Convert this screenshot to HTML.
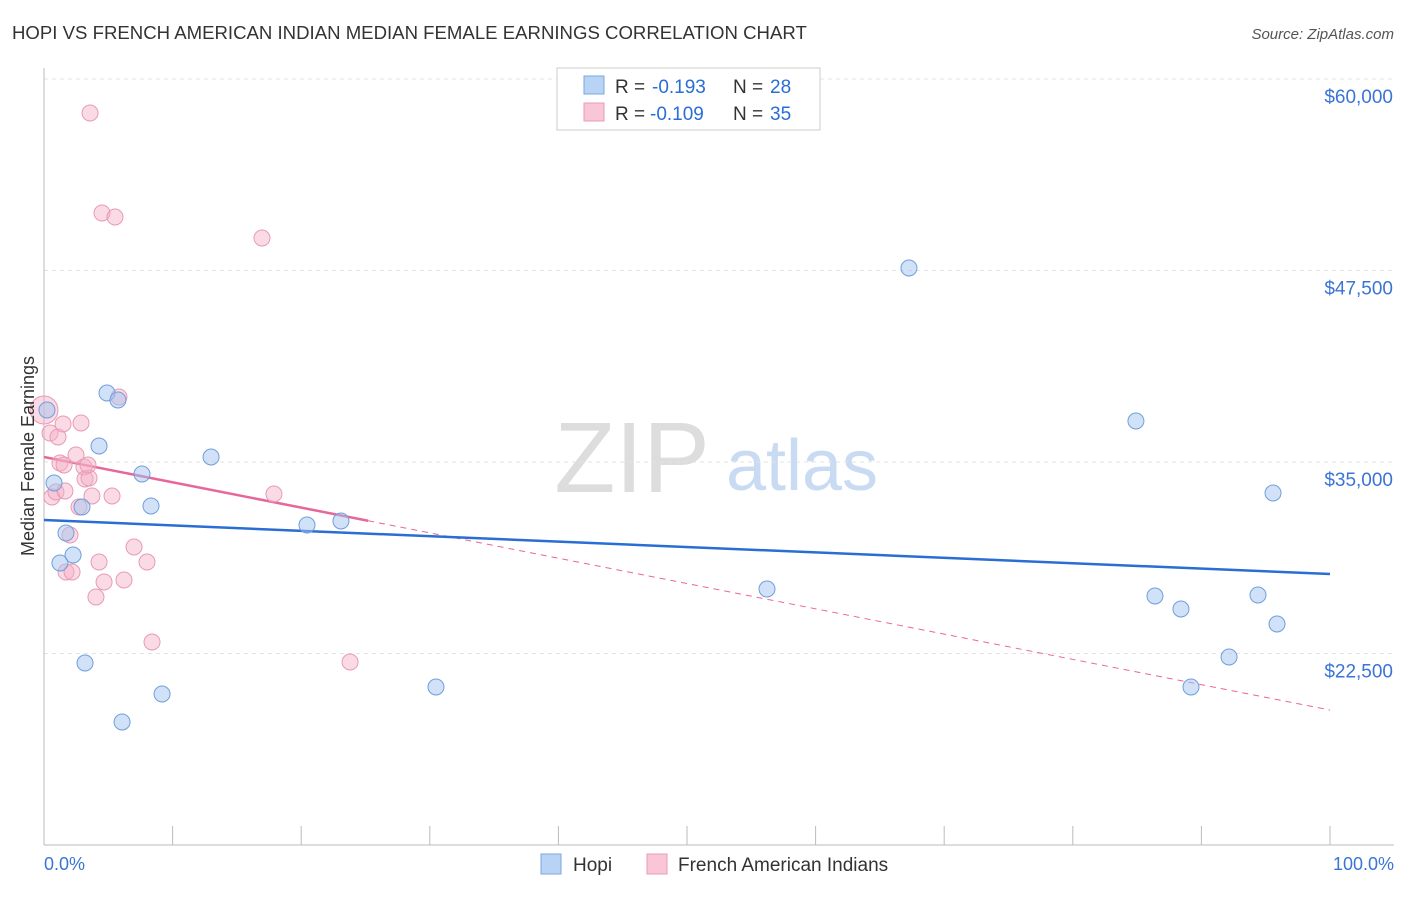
<!DOCTYPE html>
<html><head><meta charset="utf-8"><style>
body{margin:0;background:#fff;font-family:"Liberation Sans",sans-serif}
svg text{font-family:"Liberation Sans",sans-serif}
</style></head><body>
<svg id="chart" width="1406" height="892">
<text x="12" y="39" font-size="18.6" fill="#333">HOPI VS FRENCH AMERICAN INDIAN MEDIAN FEMALE EARNINGS CORRELATION CHART</text>
<text x="1394" y="39" font-size="15" fill="#555" text-anchor="end" font-style="italic">Source: ZipAtlas.com</text>
<g>
<text x="632" y="492" font-size="100" fill="#ddd" text-anchor="middle" font-family="Liberation Serif,serif">ZIP</text>
<text x="802" y="490" font-size="72" fill="#c9daf3" text-anchor="middle">atlas</text>
</g>
<g id="grid"></g><g id="axes"></g><g id="lines"></g><g id="pts"></g>
<text transform="translate(34,456) rotate(-90)" font-size="18" fill="#333" text-anchor="middle">Median Female Earnings</text>
<text x="44" y="870" font-size="18" fill="#3a74d6">0.0%</text>
<text x="1394" y="870" font-size="18" fill="#3a74d6" text-anchor="end">100.0%</text>
<g>
<rect x="557" y="68" width="263" height="62" fill="#fff" stroke="#ccc"/>
<rect x="584" y="76" width="20" height="18" fill="#b9d3f5" stroke="#7aa7e0"/>
<rect x="584" y="103" width="20" height="18" fill="#f9c6d6" stroke="#e89ab5"/>
<text x="615" y="93" font-size="19" fill="#333">R =</text>
<text x="652" y="93" font-size="19" fill="#2a6dd4">-0.193</text>
<text x="733" y="93" font-size="19" fill="#333">N =</text>
<text x="770" y="93" font-size="19" fill="#2a6dd4">28</text>
<text x="615" y="120" font-size="19" fill="#333">R =</text>
<text x="650" y="120" font-size="19" fill="#2a6dd4">-0.109</text>
<text x="733" y="120" font-size="19" fill="#333">N =</text>
<text x="770" y="120" font-size="19" fill="#2a6dd4">35</text>
</g>
<g>
<rect x="541" y="854" width="20" height="20" fill="#b9d3f5" stroke="#7aa7e0"/>
<text x="573" y="871" font-size="19" fill="#333">Hopi</text>
<rect x="647" y="854" width="20" height="20" fill="#f9c6d6" stroke="#e89ab5"/>
<text x="678" y="871" font-size="19" fill="#333">French American Indians</text>
</g>
</svg>
<script>
const yTicks=[22500,35000,47500,60000];
const yTickLabels=["$22,500","$35,000","$47,500","$60,000"];
const hopiX=[0.78,1.24,1.71,2.26,2.95,3.19,4.28,4.9,5.75,6.07,7.62,8.32,9.18,12.99,20.45,23.09,30.48,56.22,67.26,84.91,86.39,88.41,89.19,92.15,94.4,95.57,95.88,0.23];
const hopiY=[33629,28407,30366,28930,32063,21880,36044,39504,39047,18029,34217,32128,19856,35326,30888,31149,20313,26710,47663,37676,26253,25405,20313,22272,26319,32977,24426,38394];
const frX=[0,0.47,0.62,0.93,1.09,1.24,1.48,1.63,1.71,2.02,2.18,2.49,2.72,2.88,3.11,3.19,3.5,3.58,3.73,4.04,4.28,4.51,4.67,5.29,5.52,5.83,6.22,7.0,8.01,8.4,16.95,17.88,23.8,1.56,3.42];
const frY=[38394,36893,32715,33042,36632,34935,37480,33107,27820,30235,27820,35457,32063,37546,34674,33890,33956,57781,32781,26188,28473,51253,27167,32781,50992,39243,27298,29452,28473,23251,49621,32911,21945,34804,34804];
const hopiTrend=[31214,27689];
const frTrend=[35326,18812];
const frSolidEnd=25.2;
const NS="http://www.w3.org/2000/svg";
const sx=v=>44+v*12.86, sy=v=>845-(v-10000)*0.01532;
function mk(t,a,p){const e=document.createElementNS(NS,t);for(const k in a)e.setAttribute(k,a[k]);p.appendChild(e);return e;}
const grid=document.getElementById('grid'),axes=document.getElementById('axes'),lines=document.getElementById('lines'),pts=document.getElementById('pts');
yTicks.forEach((v,i)=>{
 const l=mk('line',{x1:44,x2:1394,y1:sy(v),y2:sy(v),stroke:'#e3e3e3','stroke-dasharray':'4,4'},grid);
 
 
 const t=mk('text',{x:1393,y:sy(v)+24,'font-size':19,fill:'#3a74d6','text-anchor':'end'},grid);
 t.textContent=yTickLabels[i];
 
 
});
const ax=mk('line',{x1:44,x2:44,y1:68,y2:845,stroke:'#bbb'},axes);


const bx=mk('line',{x1:44,x2:1394,y1:845,y2:845,stroke:'#bbb'},axes);


for(let i=0;i<=10;i++){const tk=mk('line',{x1:sx(i*10),x2:sx(i*10),y1:826,y2:845,stroke:'#bbb'},axes);
 
 }
const frAt=x=>frTrend[0]+(frTrend[1]-frTrend[0])*x/100;
let e=mk('line',{x1:sx(frSolidEnd),y1:sy(frAt(frSolidEnd)),x2:sx(100),y2:sy(frTrend[1]),stroke:'#e8679a','stroke-width':1,'stroke-dasharray':'6,5'},lines);


function dots(X,Y,fill,stroke,name){X.forEach((x,i)=>{const c=mk('circle',{cx:sx(x),cy:sy(Y[i]),r:(x===0?14:8),fill:fill,stroke:stroke,'stroke-width':1},pts);
 
 });}
dots(frX,frY,'rgba(245,175,198,0.45)','#e89ab5','french-point');
dots(hopiX,hopiY,'rgba(163,196,240,0.5)','#6f9fdc','hopi-point');
e=mk('line',{x1:sx(0),y1:sy(hopiTrend[0]),x2:sx(100),y2:sy(hopiTrend[1]),stroke:'#2a6dd4','stroke-width':2.5},lines);


e=mk('line',{x1:sx(0),y1:sy(frTrend[0]),x2:sx(frSolidEnd),y2:sy(frAt(frSolidEnd)),stroke:'#e8679a','stroke-width':2.5},lines);


</script>
</body></html>
